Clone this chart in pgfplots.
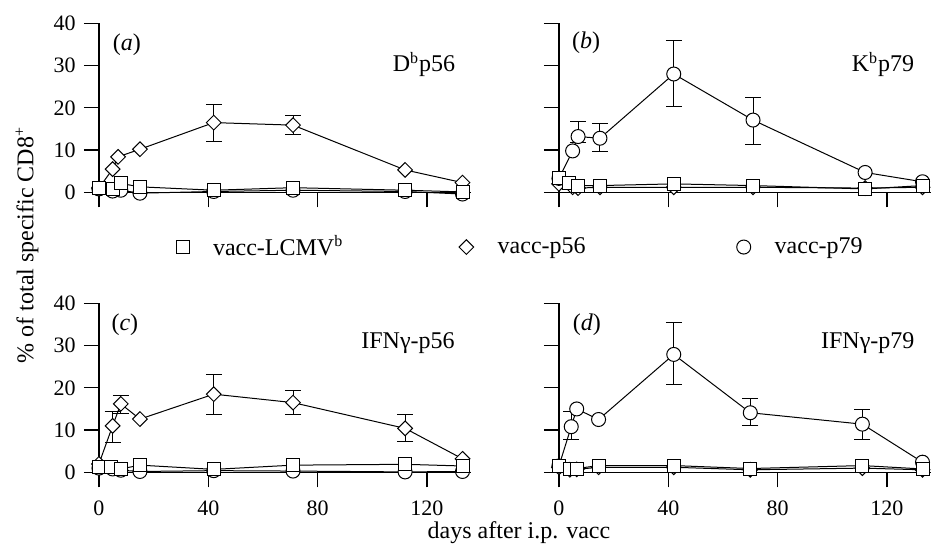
\documentclass[border=0pt,12pt]{standalone}
\usepackage{fontspec}
\setmainfont{Liberation Serif}
\usepackage{pgfplots}
\pgfplotsset{compat=1.18}

\tikzset{lab/.style={font=\fontsize{12}{14}\selectfont}}
\pgfplotsset{
  panel/.style={
    scale only axis, width=192.85pt, height=91.7pt,
    xmin=-5.1, xmax=136, ymin=-3.4, ymax=40,
    axis lines=middle, axis line style={-, line width=0.6pt},
    hide obscured x ticks=false, hide obscured y ticks=false,
    tick align=outside, major tick length=7.5pt,
    every tick/.style={black, line width=0.6pt},
    xtick={0,40,80,120}, ytick={0,10,20,30,40},
    tick label style={font=\fontsize{11}{13}\selectfont},
    xticklabel style={yshift=-2.5pt},
    /pgf/number format/assume math mode=true,
    clip=false,
  },
  ser/.style={black, line width=0.5pt, forget plot},
  sq/.style={ser, mark=square*, mark size=3.25pt, mark options={fill=white, line width=0.5pt, solid}},
  di/.style={ser, mark=square*, mark size=2.6pt, mark options={rotate=45, fill=white, line width=0.5pt, solid}},
  ci/.style={ser, mark=*, mark size=3.5pt, mark options={fill=white, line width=0.5pt, solid}},
  eb/.style={forget plot, only marks, mark=*, mark size=0.1pt, black,
    error bars/.cd, y dir=both, y explicit,
    error bar style={draw=black, line width=0.5pt},
    error mark=-,
    error mark options={rotate=90, draw=black, line width=0.5pt, mark size=4pt}},
}

\begin{document}
\begin{tikzpicture}
% (a) Db p56
\begin{axis}[panel, name=a, at={(0,0)}, xticklabels={},
  legend columns=3, legend cell align=left,
  legend image code/.code={\draw[#1] plot coordinates {(0pt,0pt)};},
  legend style={at={(axis description cs:0.236,-0.22)}, anchor=west,
    draw=none, fill=none, inner sep=0pt, outer sep=0pt,
    column sep=0pt, nodes={inner sep=0pt},
    font=\fontsize{12}{14}\selectfont}]
\addplot[ci] coordinates {(0,0.8) (5,0.3) (8,0.5) (15,-0.2) (42,0.2) (71,0.5) (112,0.2) (133,-0.4)};
\addplot[eb] table[x=d, y=v, y error plus=ep, y error minus=em] {
d  v    ep  em
42 16.5 4.3 4.4
71 15.9 2.2 2.3
};
\addplot[di] coordinates {(0,1.0) (5,5.5) (7,8.4) (15,10.2) (42,16.5) (71,15.9) (112,5.3) (133,2.3)};
\addplot[sq] coordinates {(0,1.1) (5,0.9) (8,2.1) (15,1.3) (42,0.5) (71,1.1) (112,0.5) (133,0.1)};
\addlegendimage{only marks, mark=square*, mark size=3.25pt, mark options={fill=white, line width=0.5pt}}
\addlegendentry{\makebox[135pt][l]{\hspace{12pt}vacc-LCMV\textsuperscript{b}}}
\addlegendimage{only marks, mark=square*, mark size=2.6pt, mark options={rotate=45, fill=white, line width=0.5pt}}
\addlegendentry{\makebox[131.5pt][l]{\hspace{12pt}vacc-p56}}
\addlegendimage{only marks, mark=*, mark size=3.5pt, mark options={fill=white, line width=0.5pt}}
\addlegendentry{\hspace{12pt}vacc-p79}
\node[lab] at (axis cs:10.2,34.9) {(\textit{a})};
\node[lab, anchor=base east] at (axis cs:133.4,28.5) {D\textsuperscript{b}p56};
\end{axis}

% (b) Kb p79
\begin{axis}[panel, name=b, at={(230pt,0)}, xticklabels={}, yticklabels={}]
\addplot[di] coordinates {(0,2.0) (5,1.2) (7,1.0) (15,1.2) (42,1.2) (71,1.2) (112,1.0) (133,1.2)};
\addplot[eb] table[x=d, y=v, y error plus=ep, y error minus=em] {
d  v    ep  em
7  13.2 3.5 1.5
15 12.8 3.4 3.2
42 28.0 8.0 7.7
71 17.1 5.4 5.7
};
\addplot[ci] coordinates {(0,3.3) (5,9.8) (7,13.2) (15,12.8) (42,28.0) (71,17.1) (112,4.7) (133,2.5)};
\addplot[sq] coordinates {(0,3.3) (3.5,2.1) (7,1.6) (15,1.6) (42,2.0) (71,1.6) (112,0.8) (133,1.6)};
\node[lab] at (axis cs:9.9,35.3) {(\textit{b})};
\node[lab, anchor=base east] at (axis cs:133,28.5) {K\textsuperscript{b}p79};
\end{axis}

% (c) IFNg p56
\begin{axis}[panel, name=c, at={(0,-140pt)}]
\addplot[ci] coordinates {(0,1.0) (5,0.8) (8,0.5) (15,0.2) (42,0.4) (71,0.3) (112,0.1) (133,0.2)};
\addplot[eb] table[x=d, y=v, y error plus=ep, y error minus=em] {
d   v    ep  em
5   11.0 3.4 4.0
8   16.2 1.9 2.2
42  18.5 4.7 4.7
71  16.5 2.8 2.9
112 10.4 3.3 3.0
};
\addplot[di] coordinates {(0,2.0) (5,11.0) (8,16.2) (15,12.6) (42,18.5) (71,16.5) (112,10.4) (133,3.2)};
\addplot[sq] coordinates {(0,1.3) (4.5,1.3) (8,0.8) (15,1.7) (42,0.7) (71,1.7) (112,1.9) (133,1.5)};
\node[lab] at (axis cs:9.5,34.9) {(\textit{c})};
\node[lab, anchor=base east] at (axis cs:133.2,29.2) {IFNγ-p56};
\end{axis}

% (d) IFNg p79
\begin{axis}[panel, name=d, at={(230pt,-140pt)}, yticklabels={}]
\addplot[di] coordinates {(0,1.2) (4,0.6) (6.5,0.7) (14.5,1.2) (42,1.2) (70,0.6) (111,1.0) (133,0.6)};
\addplot[eb] table[x=d, y=v, y error plus=ep, y error minus=em] {
d   v    ep  em
4.5 10.8 3.6 3.1
42  27.9 7.6 7.0
70  14.1 3.4 3.1
111 11.4 3.4 3.7
};
\addplot[ci] coordinates {(0,1.5) (4.5,10.8) (6.5,15.0) (14.5,12.5) (42,27.9) (70,14.1) (111,11.4) (133,2.4)};
\addplot[sq] coordinates {(0,1.6) (4,0.9) (6.5,0.9) (14.5,1.6) (42,1.6) (70,0.9) (111,1.6) (133,0.8)};
\node[lab] at (axis cs:10.2,34.9) {(\textit{d})};
\node[lab, anchor=base east] at (axis cs:133.1,29.2) {IFNγ-p79};
\end{axis}

\node[lab, rotate=90] at (-29pt,-19.15pt) {\% of total specific CD8\textsuperscript{+}};
\node[lab] at (217pt,-163.15pt) {days after i.p. vacc};

\pgfresetboundingbox
\path (-42.5pt,103.35pt) rectangle (423pt,-169.65pt);
\end{tikzpicture}
\end{document}
